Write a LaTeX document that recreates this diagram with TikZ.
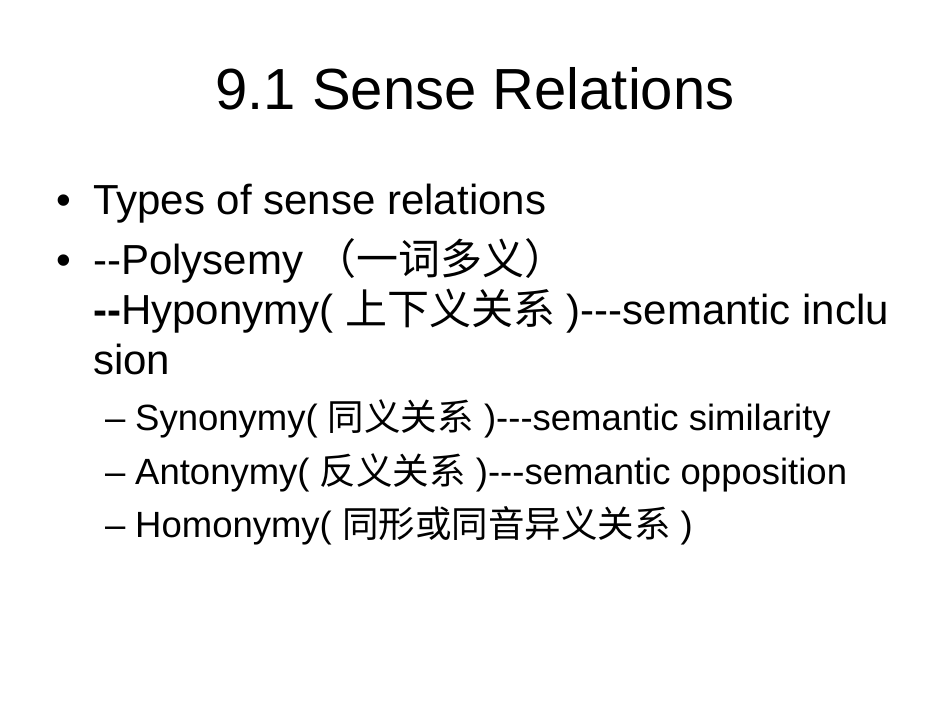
\documentclass[tikz,border=0pt]{standalone}
\usepackage{fontspec}
\setmainfont{Liberation Sans}[Ligatures=NoCommon]
\defaultfontfeatures{}
\newfontfamily\cjk{Noto Sans CJK SC}
\newcommand{\dd}{-{}-}
\newcommand{\ddd}{-{}-{}-}
\begin{document}
\begin{tikzpicture}[x=1pt,y=1pt,
  txt/.style={anchor=base west,inner sep=0pt,font=\fontsize{42}{46}\selectfont},
  sub/.style={anchor=base west,inner sep=0pt,font=\fontsize{36.5}{40}\selectfont}]
\useasboundingbox[fill=white] (0,0) rectangle (950,713);
\node[anchor=base,inner sep=0pt,font=\fontsize{58}{64}\selectfont] (title) at (475,603) {9.1 Sense Relations};
\node[txt] (b1) at (56,498) {\textbullet};
\node[txt] (l1) at (93,498) {Types of sense relations};
\node[txt] (b2) at (56,438) {\textbullet};
\node[txt] (l2) at (93,438) {\dd Polysemy {\cjk （一词多义）}};
\node[txt] (l3) at (93,388) {\textbf{\dd}Hyponymy( {\cjk 上下义关系} )\ddd semantic inclu};
\node[txt] (l4) at (93,338) {sion};
\node[sub] (d1) at (105,283) {–};
\node[sub] (s1) at (135,283) {Synonymy( {\cjk 同义关系} )\ddd semantic similarity};
\node[sub] (d2) at (105,229) {–};
\node[sub] (s2) at (135,229) {Antonymy( {\cjk 反义关系} )\ddd semantic opposition};
\node[sub] (d3) at (105,176) {–};
\node[sub] (s3) at (135,176) {Homonymy( {\cjk 同形或同音异义关系} )};
\end{tikzpicture}
\end{document}
